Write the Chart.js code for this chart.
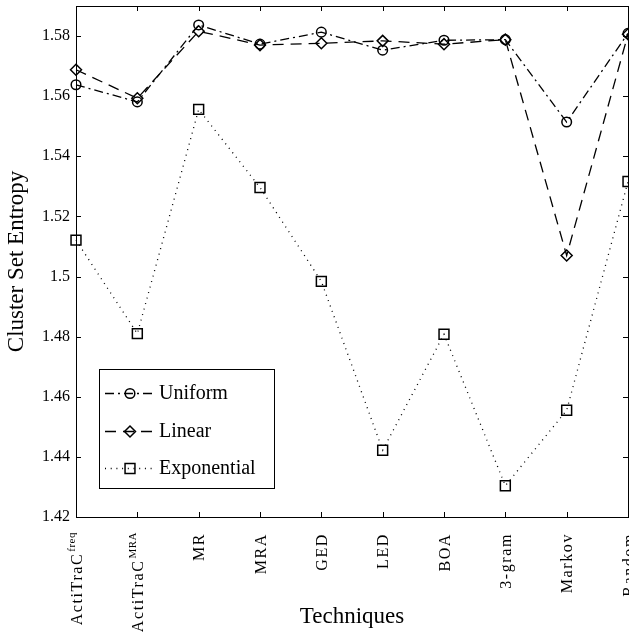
<!DOCTYPE html>
<html>
<head>
<meta charset="utf-8">
<script src="https://cdn.jsdelivr.net/npm/chart.js@4"></script>
<style>
  html, body { margin: 0; padding: 0; background: #fff; }
  #wrap { width: 629px; height: 634px; }
</style>
</head>
<body>
<div id="wrap"><canvas id="chart"></canvas></div>
<script>
'use strict';

// categories on the x axis (superscripts drawn separately)
const techniques = ['ActiTraC', 'ActiTraC', 'MR', 'MRA', 'GED', 'LED', 'BOA', '3-gram', 'Markov', 'Random'];
const superscripts = ['freq', 'MRA', '', '', '', '', '', '', '', ''];

// series values
const uniform = [1.5638, 1.5581, 1.5837, 1.5773, 1.5813, 1.5753, 1.5786, 1.5788, 1.5514, 1.5809];
const linear = [1.5688, 1.5593, 1.5816, 1.5770, 1.5776, 1.5784, 1.5773, 1.5788, 1.5070, 1.5806];
const exponential = [1.5121, 1.4810, 1.5556, 1.5296, 1.4984, 1.4422, 1.4808, 1.4304, 1.4555, 1.5316];

// y tick labels
const yTicks = [1.42, 1.44, 1.46, 1.48, 1.5, 1.52, 1.54, 1.56, 1.58];

const serif = '"Liberation Serif", "Times New Roman", serif';

//etiquetas del eje x rotadas, con superindice
const xLabels = {
    id: 'xLabels',
    afterDraw(chart) {
        const ctx = chart.ctx;
        const xs = chart.scales.x;
        const yEnd = xs.top + 15;
        ctx.save();
        ctx.fillStyle = '#000';
        ctx.textBaseline = 'alphabetic';
        ctx.textAlign = 'right';
        techniques.forEach((t, i) => {
            const x = xs.getPixelForTick(i);
            const sup = superscripts[i];
            ctx.save();
            ctx.translate(x, yEnd);
            ctx.rotate(-Math.PI / 2);
            let sw = 0;
            if (sup) {
                ctx.font = '11px ' + serif;
                ctx.letterSpacing = '0.5px';
                sw = ctx.measureText(sup).width;
                ctx.fillText(sup, 0, -1);
            }
            ctx.font = '16px ' + serif;
            ctx.letterSpacing = '1.6px';
            ctx.fillText(t, -sw - 1, 5.5);
            ctx.restore();
        });
        ctx.restore();
    }
};

//caja con marcas hacia dentro
const frame = {
    id: 'frame',
    afterDraw(chart) {
        const {ctx, chartArea: a, scales: {x, y}} = chart;
        const tl = 5;
        ctx.save();
        ctx.strokeStyle = '#000';
        ctx.lineWidth = 1;
        ctx.setLineDash([]);
        ctx.strokeRect(a.left + 0.5, a.top + 0.5, a.right - a.left, a.bottom - a.top);
        ctx.beginPath();
        for (let i = 0; i < techniques.length; i++) {
            const px = Math.round(x.getPixelForTick(i)) + 0.5;
            ctx.moveTo(px, a.bottom);
            ctx.lineTo(px, a.bottom - tl);
            ctx.moveTo(px, a.top);
            ctx.lineTo(px, a.top + tl);
        }
        for (const t of y.ticks) {
            const py = Math.round(y.getPixelForValue(t.value)) + 0.5;
            ctx.moveTo(a.left, py);
            ctx.lineTo(a.left + tl, py);
            ctx.moveTo(a.right, py);
            ctx.lineTo(a.right - tl, py);
        }
        ctx.stroke();
        ctx.restore();
    }
};

//leyenda dentro del grafico
const legendBox = {
    id: 'legendBox',
    afterDraw(chart) {
        const ctx = chart.ctx;
        const bx = 99, by = 369, bw = 175, bh = 119;
        ctx.save();
        ctx.fillStyle = '#fff';
        ctx.fillRect(bx, by, bw, bh);
        ctx.strokeStyle = '#000';
        ctx.lineWidth = 1;
        ctx.strokeRect(bx + 0.5, by + 0.5, bw, bh);
        chart.data.datasets.forEach((ds, i) => {
            const cy = Math.round(by + 24 + i * 37.5) + 0.5;
            ctx.strokeStyle = ds.borderColor;
            ctx.lineWidth = ds.borderWidth;
            ctx.setLineDash(ds.borderDash);
            ctx.beginPath();
            ctx.moveTo(105, cy);
            ctx.lineTo(155, cy);
            ctx.stroke();
            ctx.setLineDash([]);
            ctx.fillStyle = 'rgba(0,0,0,0)';
            ctx.strokeStyle = '#000';
            ctx.lineWidth = ds.pointBorderWidth;
            Chart.helpers.drawPoint(ctx, {
                pointStyle: ds.pointStyle,
                radius: ds.pointRadius,
                rotation: 0,
                borderWidth: ds.pointBorderWidth
            }, 130, cy);
            ctx.fillStyle = '#000';
            ctx.font = '20px ' + serif;
            ctx.textBaseline = 'middle';
            ctx.textAlign = 'left';
            ctx.fillText(ds.label, 159, cy);
        });
        ctx.restore();
    }
};

function serie(label, data, dash, style, radius) {
    return {
        label: label,
        data: data,
        borderColor: '#000',
        borderWidth: 1.3,
        borderDash: dash,
        pointStyle: style,
        pointRadius: radius,
        pointBorderWidth: 1.5,
        pointBorderColor: '#000',
        pointBackgroundColor: 'rgba(0,0,0,0)',
        tension: 0,
        clip: false
    };
}

new Chart('chart', {
    type: 'line',
    data: {
        labels: techniques.map((t, i) => superscripts[i] ? t + ' ' + superscripts[i] : t),
        datasets: [
            serie('Uniform', uniform, [9, 4, 2, 4], 'circle', 4.8),
            serie('Linear', linear, [11, 7], 'rectRot', 5.5),
            serie('Exponential', exponential, [1, 4.7], 'rect', 7)
        ]
    },
    options: {
        responsive: true,
        maintainAspectRatio: false,
        animation: false,
        events: [],
        layout: { autoPadding: false, padding: { left: 0, right: 1, top: 6, bottom: 0 } },
        plugins: {
            legend: { display: false },
            tooltip: { enabled: false }
        },
        scales: {
            x: {
                offset: false,
                grid: { display: false, drawTicks: false },
                border: { display: false },
                ticks: { display: false },
                title: {
                    display: true,
                    text: 'Techniques',
                    color: '#000',
                    font: { family: serif, size: 23 },
                    padding: { top: 0, bottom: 3 }
                },
                afterFit(s) {
                    s.height = 117;
                    s.paddingLeft = 0;
                    s.paddingRight = 0;
                }
            },
            y: {
                min: 1.42,
                max: 1.59,
                grid: { display: false, drawTicks: false },
                border: { display: false },
                afterBuildTicks(s) {
                    s.ticks = yTicks.map(v => ({ value: v }));
                },
                ticks: {
                    color: '#000',
                    padding: 6,
                    font: { family: serif, size: 16 },
                    callback: v => String(+v.toFixed(2))
                },
                title: {
                    display: true,
                    text: 'Cluster Set Entropy',
                    color: '#000',
                    font: { family: serif, size: 23 },
                    padding: { top: 3, bottom: 0 }
                },
                afterFit(s) {
                    s.width = 76;
                    s.paddingTop = 0;
                    s.paddingBottom = 0;
                }
            }
        }
    },
    plugins: [frame, xLabels, legendBox]
});
</script>
</body>
</html>
